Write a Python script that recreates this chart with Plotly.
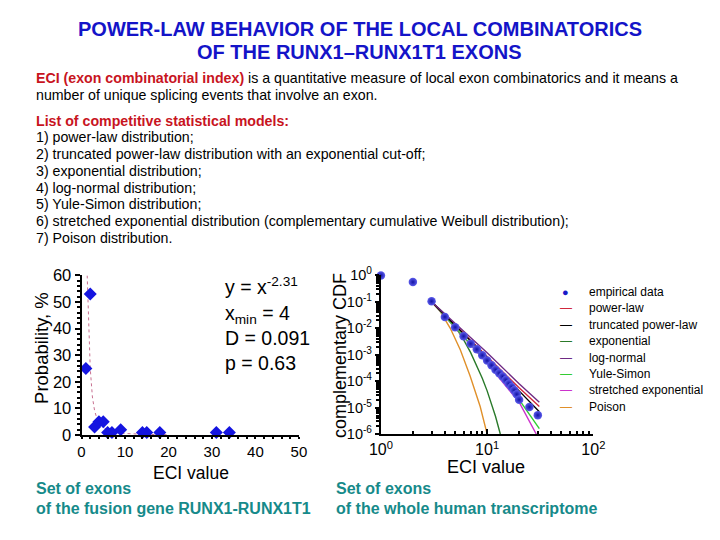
import plotly.graph_objects as go

# ---------------- data: left chart (RUNX1-RUNX1T1 exons) ----------------
eci_fusion = [1, 2, 3, 4, 5, 6, 7, 9, 14, 15, 18, 31, 34]
prob_fusion = [25, 53, 3, 5, 5, 1, 1, 2, 1, 1, 1, 1, 1]
fit_x = [1.3, 1.5, 2, 2.5, 3, 3.5, 4, 5, 6, 8, 10, 15, 20]
fit_y = [60, 48, 25, 14.3, 9.2, 6.4, 4.9, 2.9, 2.0, 1.0, 0.6, 0.23, 0.12]
fit_text = ["y = x<sup>-2.31</sup>", "x<sub>min</sub> = 4", "D = 0.091", "p = 0.63"]
left_xticks = [0, 10, 20, 30, 40, 50]
left_yticks = [0, 10, 20, 30, 40, 50, 60]

# ---------------- data: right chart (whole human transcriptome) ----------------
ccdf_x = [1, 2, 3, 4, 5, 6, 7, 8, 9, 10, 11, 12, 13, 14, 15, 16, 17, 18, 19, 20, 25, 30]
ccdf_y = [1.0, 0.56, 0.105, 0.027, 0.011, 0.005, 0.0026, 0.0016, 0.00095, 0.0006,
          0.0004, 0.00027, 0.0002, 0.00015, 0.00011, 8e-5, 6e-5, 4.5e-5, 3.2e-5,
          2e-5, 1.05e-5, 5.2e-6]

powerlaw_x = [3, 5, 10, 20, 31]
powerlaw_y = [0.1, 0.0133, 8.7e-4, 5.6e-5, 1.1e-5]
truncated_x = [3, 5, 10, 20, 31]
truncated_y = [0.1, 0.0128, 7.8e-4, 4.3e-5, 7e-6]
exponential_x = [3, 4, 5, 6, 7, 8, 9, 10, 11, 12, 13.3]
exponential_y = [0.1, 0.034, 0.0115, 0.0037, 0.0012, 3.9e-4, 1.3e-4, 4.3e-5, 1.4e-5, 4.6e-6, 1e-6]
lognormal_x = [3, 5, 10, 20, 31]
lognormal_y = [0.1, 0.0155, 0.0012, 8e-5, 1.6e-5]
yule_x = [3, 5, 10, 20, 31]
yule_y = [0.1, 0.011, 5.2e-4, 2e-5, 1.6e-6]
stretched_x = [3, 5, 10, 20, 29]
stretched_y = [0.1, 0.0108, 4.8e-4, 1.6e-5, 1e-6]
poisson_x = [3, 3.6, 4.5, 5.6, 6.9, 8.6, 10]
poisson_y = [0.1, 0.045, 0.01, 0.0015, 1.6e-4, 1.1e-5, 1e-6]

right_xticks = [1, 10, 100]
right_xticktext = ["10<sup>0</sup>", "10<sup>1</sup>", "10<sup>2</sup>"]
right_yticks = [1, 0.1, 0.01, 0.001, 1e-4, 1e-5, 1e-6]
right_yticktext = ["10<sup>0</sup>", "10<sup>-1</sup>", "10<sup>-2</sup>", "10<sup>-3</sup>",
                   "10<sup>-4</sup>", "10<sup>-5</sup>", "10<sup>-6</sup>"]

legend_labels = ["empirical data", "power-law", "truncated power-law", "exponential",
                 "log-normal", "Yule-Simon", "stretched exponential", "Poison"]
legend_colors = ["#1a1ac8", "#d0283c", "#000000", "#2a7a2a", "#6e2a84", "#33cc33",
                 "#cc33cc", "#e0902a"]

# ---------------- text ----------------
title_lines = ["POWER-LAW BEHAVIOR OF THE LOCAL COMBINATORICS",
               "OF THE RUNX1\u2013RUNX1T1 EXONS"]
intro_lines = [
    "<b><span style='color:#c8141e'>ECI (exon combinatorial index)</span></b> is a quantitative measure of local exon combinatorics and it means a",
    "number of unique splicing events that involve an exon.",
]
list_head = "<b><span style='color:#c8141e'>List of competitive statistical models:</span></b>"
list_items = [
    "1) power-law distribution;",
    "2) truncated power-law distribution with an exponential cut-off;",
    "3) exponential distribution;",
    "4) log-normal distribution;",
    "5) Yule-Simon distribution;",
    "6) stretched exponential distribution (complementary cumulative Weibull distribution);",
    "7) Poison distribution.",
]
caption_left = ["Set of exons", "of the fusion gene RUNX1-RUNX1T1"]
caption_right = ["Set of exons", "of the whole human transcriptome"]

W, H = 720, 540
FONT = "Liberation Sans, Arial, sans-serif"


# screen pixel -> paper fraction (compensates the offset/scale seen in the screenshot)
def px(X):
    xc = 370 + (X - 370) / 0.97
    return ((xc - 10.6) / 0.993) / W


def py(Y):
    return 1 - ((Y - 17) / 0.967) / H


def note(x, y, text, size, color="black", xanchor="left", angle=0, yanchor="middle"):
    return dict(x=px(x), y=py(y), xref="paper", yref="paper", text=text,
                xanchor=xanchor, yanchor=yanchor, showarrow=False, textangle=angle,
                align="left", font=dict(size=size, color=color, family=FONT))


fig = go.Figure()

# left chart traces
fig.add_trace(go.Scatter(x=fit_x, y=fit_y, mode="lines", xaxis="x", yaxis="y",
                         line=dict(color="#c87090", width=1, dash="dot"),
                         showlegend=False, hoverinfo="skip"))
fig.add_trace(go.Scatter(x=eci_fusion, y=prob_fusion, mode="markers", xaxis="x", yaxis="y",
                         marker=dict(symbol="diamond", size=10, color="#1414e0"),
                         cliponaxis=False, showlegend=False))

# right chart traces
model_series = [
    ("power-law", powerlaw_x, powerlaw_y),
    ("truncated power-law", truncated_x, truncated_y),
    ("exponential", exponential_x, exponential_y),
    ("log-normal", lognormal_x, lognormal_y),
    ("Yule-Simon", yule_x, yule_y),
    ("stretched exponential", stretched_x, stretched_y),
    ("Poison", poisson_x, poisson_y),
]
draw_order = [6, 2, 5, 4, 0, 1, 3]
for i in draw_order:
    name, xs, ys = model_series[i]
    fig.add_trace(go.Scatter(x=xs, y=ys, mode="lines", name=name, xaxis="x2", yaxis="y2",
                             line=dict(color=legend_colors[i + 1], width=1.4),
                             showlegend=False))
fig.add_trace(go.Scatter(x=ccdf_x, y=ccdf_y, mode="markers", name="empirical data",
                         xaxis="x2", yaxis="y2", cliponaxis=False,
                         marker=dict(size=8.5, color="#5c5cec",
                                     gradient=dict(type="radial", color="#1212a4")),
                         showlegend=False))

axis_common = dict(showline=True, linecolor="black", linewidth=2, showgrid=False,
                   zeroline=False, tickcolor="black", tickwidth=1.5, mirror=False)

annotations = []
for i, t in enumerate(title_lines):
    annotations.append(note(360, 28 + 23 * i, "<b>" + t + "</b>", 20, "#1414c8", "center"))
for i, t in enumerate(intro_lines):
    annotations.append(note(35, 77 + 17 * i, t, 14.2))
annotations.append(note(35, 120, list_head, 14.2))
for i, t in enumerate(list_items):
    annotations.append(note(35, 136.5 + 16.8 * i, t, 14.2))
for i, t in enumerate(caption_left):
    annotations.append(note(35, 489 + 20 * i, "<b>" + t + "</b>", 16, "#168a8a"))
for i, t in enumerate(caption_right):
    annotations.append(note(334, 489 + 20 * i, "<b>" + t + "</b>", 16, "#168a8a"))
# fit statistics block (one multi-line text)
annotations.append(note(224, 272, "<br>".join(fit_text), 19.5, yanchor="top"))
# axis titles
annotations.append(note(191.5, 473, "ECI value", 17.5, xanchor="center"))
annotations.append(note(486, 467, "ECI value", 18, xanchor="center"))
annotations.append(note(43, 348, "Probability, %", 18.5, xanchor="center", angle=-90))
annotations.append(note(340, 355, "complementary CDF", 18, xanchor="center", angle=-90))
# legend (right side)
for i, lab in enumerate(legend_labels):
    yy = 291.5 + 16.45 * i
    sym = "\u25cf" if i == 0 else "\u2014"
    annotations.append(note(565, yy, sym, 11 if i == 0 else 12, legend_colors[i], "center"))
    annotations.append(note(586, yy, lab, 12))

fig.update_layout(
    width=W, height=H, margin=dict(l=0, r=0, t=0, b=0),
    paper_bgcolor="white", plot_bgcolor="white",
    font=dict(family=FONT, color="black"),
    xaxis=dict(domain=[px(82.7), px(299.3)], range=[0, 50], anchor="y",
               tickmode="array", tickvals=left_xticks, ticks="outside", ticklen=2,
               tickfont=dict(size=15), minor=dict(ticks="outside", ticklen=2, dtick=2),
               **axis_common),
    yaxis=dict(domain=[py(435), py(275)], range=[0, 60], anchor="x",
               tickmode="array", tickvals=left_yticks, ticks="outside", ticklen=5,
               tickfont=dict(size=16.5), minor=dict(ticks="outside", ticklen=3, dtick=2),
               **axis_common),
    xaxis2=dict(type="log", domain=[px(381), px(592.7)], range=[0, 2], anchor="y2",
                tickmode="array", tickvals=right_xticks, ticktext=right_xticktext,
                ticks="inside", ticklen=5, tickfont=dict(size=16),
                minor=dict(ticks="inside", ticklen=3, dtick="D1"),
                **axis_common),
    yaxis2=dict(type="log", domain=[py(434), py(275)], range=[-6, 0], anchor="x2",
                tickmode="array", tickvals=right_yticks, ticktext=right_yticktext,
                ticks="outside", ticklen=4, tickfont=dict(size=14.5),
                minor=dict(ticks="outside", ticklen=2.5, dtick="D1"),
                **axis_common),
    annotations=annotations,
)

fig.write_html("out.html")
